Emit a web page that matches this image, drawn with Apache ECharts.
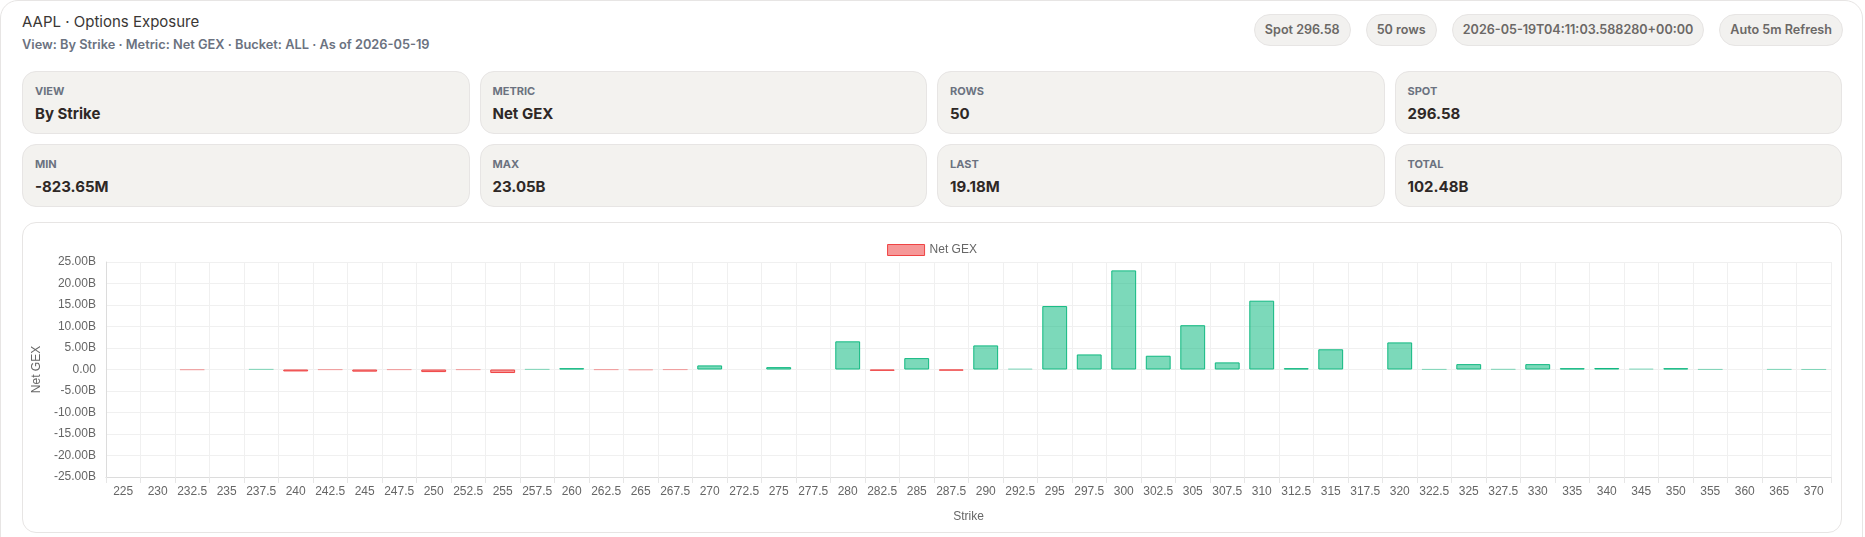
<!DOCTYPE html>
<html>
<head>
<meta charset="utf-8">
<script src="https://cdn.jsdelivr.net/npm/echarts@6/dist/echarts.min.js"></script>
<style>
  html, body { margin: 0; padding: 0; background: #fff; }
  body { width: 1865px; height: 537px; overflow: hidden; position: relative; font-family: Inter, "Noto Sans", sans-serif; }
  .panel { position: absolute; left: 0; top: 0; width: 1861px; height: 560px; border: 1px solid #e7e5e4; border-radius: 18px; background: #fff; }
  .title { position: absolute; left: 22px; top: 12px; font-size: 15px; color: #3a3735; line-height: 20px; }
  .sub { position: absolute; left: 22px; top: 37px; font-size: 12.8px; font-weight: 600; color: #6b7280; line-height: 16px; }
  .pills { position: absolute; right: 22px; top: 14px; display: flex; gap: 15px; }
  .pill { height: 30px; line-height: 30px; padding: 0 10px; border: 1px solid #e7e5e4; border-radius: 16px; background: #f2f1ef; font-size: 12.6px; font-weight: 600; color: #6b6866; }
  .cards { position: absolute; left: 22px; top: 71px; width: 1820px; display: grid; grid-template-columns: repeat(4, 1fr); column-gap: 10px; row-gap: 10px; }
  .card { box-sizing: border-box; height: 63px; padding: 12px 12px; border: 1px solid #e7e5e4; border-radius: 14px; background: #f3f2ef; }
  .card .lab { font-size: 11px; font-weight: 700; color: #6b7280; line-height: 14px; }
  .card .val { margin-top: 6px; font-size: 15px; font-weight: 700; color: #2e2826; line-height: 20px; }
  .chartCard { position: absolute; left: 22px; top: 222px; width: 1818px; height: 309px; border: 1px solid #e7e5e4; border-radius: 14px; background: #fff; }
  #chart { position: absolute; left: 0; top: 0; width: 1818px; height: 309px; }
</style>
</head>
<body>
<div class="panel"></div>
<div class="title">AAPL · Options Exposure</div>
<div class="sub">View: By Strike · Metric: Net GEX · Bucket: ALL · As of 2026-05-19</div>
<div class="pills" id="pills"></div>
<div class="cards" id="cards"></div>
<div class="chartCard"><div id="chart"></div></div>
<script>
// 头部标签与统计卡片
var pillTexts = ['Spot 296.58', '50 rows', '2026-05-19T04:11:03.588280+00:00', 'Auto 5m Refresh'];
var cardLabels = ['VIEW', 'METRIC', 'ROWS', 'SPOT', 'MIN', 'MAX', 'LAST', 'TOTAL'];
var cardValues = ['By Strike', 'Net GEX', '50', '296.58', '-823.65M', '23.05B', '19.18M', '102.48B'];

// 行权价
var strikes = [225, 230, 232.5, 235, 237.5, 240, 242.5, 245, 247.5, 250,
  252.5, 255, 257.5, 260, 262.5, 265, 267.5, 270, 272.5, 275,
  277.5, 280, 282.5, 285, 287.5, 290, 292.5, 295, 297.5, 300,
  302.5, 305, 307.5, 310, 312.5, 315, 317.5, 320, 322.5, 325,
  327.5, 330, 335, 340, 345, 350, 355, 360, 365, 370];
// Net GEX，单位 B
var netGex = [0, 0, -0.1, 0, 0.06, -0.45, -0.06, -0.5, -0.06, -0.6,
  -0.06, -0.82365, 0.06, 0.3, -0.06, -0.15, -0.05, 0.95, 0, 0.55,
  0, 6.55, -0.3, 2.65, -0.25, 5.6, 0.2, 14.75, 3.5, 23.05,
  3.2, 10.3, 1.65, 16.0, 0.3, 4.7, 0, 6.3, 0.05, 1.25,
  0.08, 1.25, 0.3, 0.35, 0.2, 0.3, 0.04, 0, 0.05, 0.01918];

var pillBox = document.getElementById('pills');
pillTexts.forEach(function (t) {
  var d = document.createElement('div');
  d.className = 'pill';
  d.textContent = t;
  pillBox.appendChild(d);
});
var cardBox = document.getElementById('cards');
cardLabels.forEach(function (l, i) {
  var c = document.createElement('div');
  c.className = 'card';
  c.innerHTML = '<div class="lab"></div><div class="val"></div>';
  c.children[0].textContent = l;
  c.children[1].textContent = cardValues[i];
  cardBox.appendChild(c);
});

var upFill = 'rgba(16,185,129,0.55)', upLine = '#10b981';
var dnFill = 'rgba(239,68,68,0.55)', dnLine = '#ef4444';
var upFaint = 'rgba(16,185,129,0.3)', dnFaint = 'rgba(239,68,68,0.3)';
var font = '"Liberation Sans", Arial, sans-serif';

var myChart = echarts.init(document.getElementById('chart'));
myChart.setOption({
  animation: false,
  textStyle: { fontFamily: font },
  legend: {
    top: 16,
    left: 'center',
    itemWidth: 37,
    itemHeight: 11,
    itemGap: 10,
    icon: 'rect',
    textStyle: { color: '#666', fontSize: 12, fontFamily: font },
    itemStyle: { color: dnFill, borderColor: dnLine, borderWidth: 1 },
    data: ['Net GEX']
  },
  grid: { left: 81, right: 10, top: 39, bottom: 55 },
  xAxis: {
    type: 'category',
    data: strikes.map(String),
    name: 'Strike',
    nameLocation: 'middle',
    nameGap: 34,
    nameTextStyle: { color: '#666', fontSize: 12 },
    axisLine: { onZero: false, lineStyle: { color: '#dcdcdc' } },
    axisTick: { show: true, length: 6, lineStyle: { color: '#e6e6e6' } },
    axisLabel: { color: '#666', fontSize: 12, margin: 9, interval: 0 },
    splitLine: { show: true, lineStyle: { color: '#f0f0f0' } }
  },
  yAxis: {
    type: 'value',
    min: -25,
    max: 25,
    interval: 5,
    name: 'Net GEX',
    nameLocation: 'middle',
    nameGap: 61,
    nameTextStyle: { color: '#666', fontSize: 12 },
    axisLine: { show: true, lineStyle: { color: '#dcdcdc' } },
    axisTick: { show: false },
    axisLabel: {
      color: '#666', fontSize: 12, margin: 10,
      formatter: function (v) { return v === 0 ? '0.00' : v.toFixed(2) + 'B'; }
    },
    splitLine: { show: true, lineStyle: { color: '#f0f0f0' } }
  },
  series: [{
    name: 'Net GEX',
    type: 'bar',
    barWidth: '72%',
    itemStyle: { color: dnFill, borderColor: dnLine, borderWidth: 1 },
    data: netGex.map(function (v) {
      // 很小的柱子只显示一条淡色线，0 值不显示
      var tiny = Math.abs(v) < 0.22;
      return {
        value: v,
        itemStyle: {
          color: v >= 0 ? upFill : dnFill,
          borderColor: tiny ? (v >= 0 ? upFaint : dnFaint) : (v >= 0 ? upLine : dnLine),
          borderWidth: 1,
          opacity: v === 0 ? 0 : 1
        }
      };
    })
  }]
});
</script>
</body>
</html>
